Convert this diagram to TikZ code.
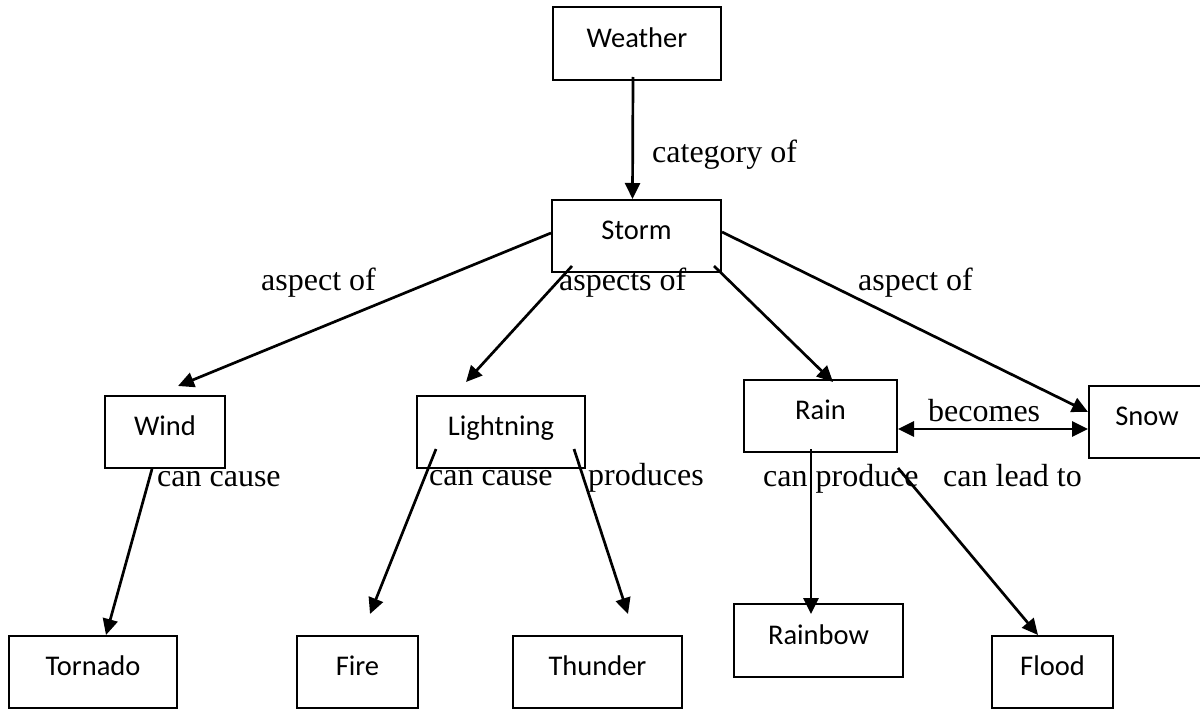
\documentclass[tikz,border=0pt]{standalone}
\usepackage{fontspec}
\setmainfont{Liberation Serif}
\newfontfamily\boxfont{Carlito}
\usetikzlibrary{arrows.meta}
\tikzset{
  box/.style={draw, line width=2pt, inner sep=0pt, font=\boxfont\fontsize{28.5}{30}\selectfont},
  lbl/.style={anchor=base west, inner sep=0pt, font=\fontsize{32}{36}\selectfont},
  arr/.style={line width=2.7pt, -{Triangle[length=16pt,width=15pt]}},
  darr/.style={line width=2.7pt, {Triangle[length=16pt,width=15pt]}-{Triangle[length=16pt,width=15pt]}},
}
\newcommand\boxtxt[1]{\raisebox{12pt}{#1}}
\begin{document}
\begin{tikzpicture}[x=1pt,y=-1pt]
\useasboundingbox (0,0) rectangle (1200,709);
% boxes
\node[box, minimum width=168pt, minimum height=73pt] (weather) at (637,43.5) {\boxtxt{Weather}};
\node[box, minimum width=169pt, minimum height=72pt] (storm) at (636.5,236) {\boxtxt{Storm}};
\node[box, minimum width=120pt, minimum height=72pt] (wind) at (165,432) {\boxtxt{Wind}};
\node[box, minimum width=168pt, minimum height=72pt] (lightning) at (501,432) {\boxtxt{Lightning}};
\node[box, minimum width=153pt, minimum height=72pt] (rain) at (820.5,416) {\boxtxt{Rain}};
\node[box, minimum width=116pt, minimum height=72pt] (snow) at (1147,422) {\boxtxt{Snow}};
\node[box, minimum width=168pt, minimum height=72pt] (tornado) at (93,672) {\boxtxt{Tornado}};
\node[box, minimum width=121pt, minimum height=72pt] (fire) at (357.5,672) {\boxtxt{Fire}};
\node[box, minimum width=169pt, minimum height=72pt] (thunder) at (597.5,672) {\boxtxt{Thunder}};
\node[box, minimum width=169pt, minimum height=73pt] (rainbow) at (818.5,640.5) {\boxtxt{Rainbow}};
\node[box, minimum width=121pt, minimum height=72pt] (flood) at (1052.5,672) {\boxtxt{Flood}};
% connectors
\draw[arr] ([xshift=-4pt,yshift=4pt]weather.south) -- ([xshift=-4pt]storm.north);
\draw[arr] ([yshift=3pt]storm.west) -- ([xshift=13pt,yshift=9pt]wind.north);
\draw[arr] ([xshift=21pt,yshift=7pt]storm.south west) -- ([xshift=-35pt,yshift=13pt]lightning.north);
\draw[arr] ([xshift=-8pt,yshift=7pt]storm.south east) -- ([xshift=12.5pt,yshift=-3pt]rain.north);
\draw[arr] ([yshift=4pt]storm.east) -- ([yshift=10pt]snow.west);
\draw[darr] ([yshift=-13pt]rain.east) -- ([yshift=-7pt]snow.west);
\draw[arr] ([xshift=-13pt]wind.south) -- ([xshift=13pt]tornado.north);
\draw[arr] ([xshift=20pt,yshift=20pt]lightning.south west) -- ([xshift=12.5pt,yshift=21pt]fire.north);
\draw[arr] ([xshift=-12pt,yshift=20pt]lightning.south east) -- ([xshift=30.5pt,yshift=21pt]thunder.north);
\draw[arr] ([xshift=-9.5pt,yshift=4pt]rain.south) -- ([xshift=-7.5pt,yshift=-11pt]rainbow.north);
\draw[arr] ([yshift=-15pt]rain.south east) -- ([xshift=-14.5pt]flood.north);
% labels
\node[lbl] (lcat) at (652,162) {category of};
\node[lbl] (lasp1) at (261,290) {aspect of};
\node[lbl] (lasp2) at (559,290) {aspects of};
\node[lbl] (lasp3) at (858,290) {aspect of};
\node[lbl] (lcc1) at (157,486) {can cause};
\node[lbl] (lcc2) at (429,485) {can cause};
\node[lbl] (lprod) at (588,485) {produces};
\node[lbl] (lbec) at (928,421) {becomes};
\node[lbl] (lcp) at (763,486) {can produce};
\node[lbl] (lclt) at (943,486) {can lead to};
\end{tikzpicture}
\end{document}
